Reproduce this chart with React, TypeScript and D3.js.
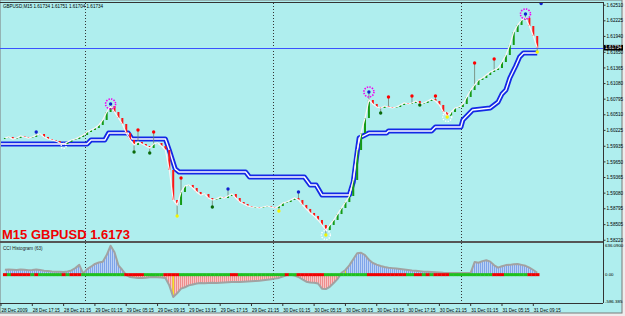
import React from 'react';
import * as d3 from 'd3';

// GBPUSD M15, one close every second bar (30 min) from 28 Dec 13:15
const closes = [
  1.60086, 1.60105, 1.60068, 1.60086, 1.60123, 1.60105, 1.60086, 1.60105, 1.60141, 1.60159,
  1.60105, 1.60068, 1.60050, 1.60032, 1.59995, 1.59977, 1.60013, 1.60050, 1.60068, 1.60105,
  1.60141, 1.60196, 1.60232, 1.60269, 1.60324, 1.60415, 1.60561, 1.60670, 1.60561, 1.60451,
  1.60342, 1.60178, 1.60050, 1.59959, 1.60013, 1.59977, 1.59940, 1.59904, 1.59977, 1.59995,
  1.59940, 1.59867, 1.59502, 1.58955, 1.58864, 1.59101, 1.59210, 1.59229, 1.59174, 1.59101,
  1.59046, 1.59064, 1.58991, 1.58955, 1.58973, 1.59010, 1.58991, 1.59028, 1.59064, 1.58991,
  1.58918, 1.58882, 1.58845, 1.58827, 1.58827, 1.58809, 1.58827, 1.58845, 1.58827, 1.58809,
  1.58845, 1.58900, 1.58918, 1.58955, 1.58991, 1.58955, 1.58864, 1.58791, 1.58718, 1.58663,
  1.58590, 1.58499, 1.58407, 1.58499, 1.58590, 1.58699, 1.58809, 1.58918, 1.59028, 1.59320,
  1.59867, 1.60178, 1.60451, 1.60780, 1.60707, 1.60652, 1.60634, 1.60670, 1.60652, 1.60634,
  1.60652, 1.60689, 1.60725, 1.60707, 1.60725, 1.60762, 1.60707, 1.60725, 1.60762, 1.60798,
  1.60762, 1.60689, 1.60561, 1.60488, 1.60561, 1.60634, 1.60652, 1.60707, 1.60835, 1.60962,
  1.61054, 1.61145, 1.61181, 1.61236, 1.61291, 1.61327, 1.61364, 1.61473, 1.61601, 1.61784,
  1.62021, 1.62149, 1.62240, 1.62276, 1.62130, 1.61948, 1.61734,
];

// CCI histogram (63), same samples
const cciValues = [
  107, 110, 105, 100, 110, 105, 95, 100, 110, 100,
  85, 80, 70, 65, 60, 55, 70, 90, 140, 210,
  20, 120, 170, 230, 260, 275, 420, 620, 480, 200,
  100, -10, -50, -60, -70, -70, -65, -55, -50, -55,
  -60, -70, -230, -480, -400, -300, -270, -230, -210, -190,
  -180, -185, -180, -175, -180, -175, -170, -165, -160, -160,
  -155, -150, -145, -140, -135, -130, -120, -110, -100, -85,
  -70, -40, -10, 5, -20, -50, -100, -150, -170, -175,
  -190, -300, -310, -260, -180, -90, 40, 100, 200, 330,
  460, 470, 420, 320, 250, 215, 185, 165, 150, 140,
  130, 120, 110, 100, 90, 85, 75, 65, 60, 55,
  50, 45, 40, 38, 36, 35, 35, 36, 35, 40,
  270, 255, 290, 310, 280, 200, 150, 180, 205, 210,
  225, 230, 210, 190, 150, 100, 40,
];

// sample where the zero-line colour switches, 1 = green, -1 = red
const trendChanges: [number, number][] = [
  [0, -1], [1, 1], [2, -1], [7, 1], [8, -1], [9, 1], [15, -1], [16, 1], [17, -1], [20, 1],
  [31, -1], [36, 1], [41, -1], [45, 1], [58, -1], [60, 1], [72, -1], [73, 1], [75, -1], [82, 1],
  [93, -1], [103, 1], [105, -1], [107, 1], [108, -1], [109, 1], [110, -1], [114, 1], [125, -1],
  [128, 1], [134, -1],
];
const yellowCci = [33, 43, 87];

// stepped double band (bar index, price)
const bandBars = [0, 44, 46, 53, 55, 65, 67, 84, 86, 89, 91, 125, 127, 155, 158, 161, 164, 178, 180,
  182, 183, 188, 197, 198, 220, 222, 235, 236, 239, 241, 250, 254, 256, 258, 260, 263, 265, 267, 274];
const bandMid = [1.59976, 1.59976, 1.60049, 1.60049, 1.60177, 1.60177, 1.60068, 1.60068, 1.59863,
  1.59523, 1.59465, 1.59465, 1.59374, 1.59374, 1.59228, 1.59228, 1.59046, 1.59046, 1.59283, 1.59830,
  1.60086, 1.60177, 1.60177, 1.60214, 1.60214, 1.60287, 1.60287, 1.60414, 1.60524, 1.60597, 1.60633,
  1.60743, 1.60889, 1.60962, 1.61181, 1.61400, 1.61564, 1.61637, 1.61637];

// markers (sample, price)
const blueDots: [number, number][] = [[8, 1.60196], [27, 1.60707], [57, 1.59156], [75, 1.59101], [93, 1.60926], [133, 1.62349], [137, 1.62540]];
const redDots: [number, number][] = [[34, 1.60232], [38, 1.60196], [45, 1.59356], [98, 1.60835], [104, 1.60853], [110, 1.60853], [120, 1.61455], [125, 1.61528]];
const greenDots: [number, number][] = [[33, 1.59831], [37, 1.59813], [53, 1.58827], [96, 1.60543], [106, 1.60689]];
const yellowDots: [number, number][] = [[44, 1.58663], [70, 1.58754], [82, 1.58316], [113, 1.60470], [136, 1.61656]];
const magentaRings: [number, number][] = [[27, 1.60707], [93, 1.60926], [133, 1.62349]];
const whiteRings: [number, number][] = [[15, 1.59940], [82, 1.58316], [113, 1.60470]];

const priceLabels = [1.62510, 1.62225, 1.61940, 1.61650, 1.61365, 1.61080, 1.60795, 1.60510, 1.60225,
  1.59935, 1.59650, 1.59365, 1.59080, 1.58795, 1.58505, 1.58220];
const cciLabels = [636.09, 0, -586.385];
const cciLabelText = ['636.0900', '0.00', '-586.385'];
const timeLabels = ['28 Dec 2009', '28 Dec 17:15', '28 Dec 21:15', '29 Dec 01:15', '29 Dec 05:15', '29 Dec 09:15',
  '29 Dec 13:15', '29 Dec 17:15', '29 Dec 21:15', '30 Dec 01:15', '30 Dec 05:15', '30 Dec 09:15',
  '30 Dec 13:15', '30 Dec 17:15', '30 Dec 21:15', '31 Dec 01:15', '31 Dec 05:15', '31 Dec 09:15'];
const daySeparators = [43, 139, 235];
const currentPrice = 1.61734;

const BG = '#AFEEEE';
const AXIS_X = 603;
const FONT = "'Liberation Sans', Arial, sans-serif";

const xBar = d3.scaleLinear().domain([0, 274]).range([1, 1 + 1.957 * 274]);
const xs = (j: number) => xBar(2 * j + 2);
const yP = d3.scaleLinear().domain([1.5817, 1.6255]).range([243, 3]);
const yC = d3.scaleLinear().domain([-586.385, 636.09]).range([302, 245]);

const trendAt = (j: number) => {
  let d = 1;
  for (const [s, v] of trendChanges) if (s <= j) d = v;
  return d;
};

export default function App() {
  const closeLine = d3.line<number>().x((_, i) => xs(i)).y(d => yP(d))(closes) || '';
  const bandLine = d3.line<number>().x((_, i) => xBar(bandBars[i])).y(d => yP(d))(bandMid) || '';
  const posArea = d3.area<number>().x((_, i) => xs(i)).y0(yC(0)).y1(d => yC(Math.max(d, 0)))(cciValues) || '';
  const negArea = d3.area<number>().x((_, i) => xs(i)).y0(yC(0)).y1(d => yC(Math.min(d, 0)))(cciValues) || '';
  const cciLine = d3.line<number>().x((_, i) => xs(i)).y(d => yC(d))(cciValues) || '';
  const step = xs(1) - xs(0);
  const yNow = yP(currentPrice);

  return (
    <svg width={625} height={316} style={{ position: 'absolute', left: 0, top: 0, display: 'block' }}>
      <defs>
        <clipPath id="mainClip"><rect x={0} y={3} width={AXIS_X} height={238} /></clipPath>
        <clipPath id="cciClip"><rect x={0} y={243} width={AXIS_X} height={60} /></clipPath>
        <pattern id="posFill" width={2} height={4} patternUnits="userSpaceOnUse">
          <rect width={2} height={4} fill="#BCD2F4" />
          <rect width={1} height={4} fill="#7EA4EA" />
        </pattern>
        <pattern id="negFill" width={2} height={4} patternUnits="userSpaceOnUse">
          <rect width={2} height={4} fill="#F6C6C6" />
          <rect width={1} height={4} fill="#EE8C8C" />
        </pattern>
      </defs>

      <rect width={625} height={316} fill="#EDEDED" />
      <rect x={0} y={0} width={622} height={313} fill={BG} stroke="#7A7A7A" strokeWidth={1} />

      {/* frame */}
      <line x1={0} x2={AXIS_X} y1={2.5} y2={2.5} stroke="#333" />
      <line x1={AXIS_X + 0.5} x2={AXIS_X + 0.5} y1={2} y2={303} stroke="#333" />
      <line x1={0} x2={AXIS_X} y1={303.5} y2={303.5} stroke="#333" />
      <line x1={0} x2={AXIS_X} y1={242} y2={242} stroke="#555" strokeWidth={2} />

      {daySeparators.map(b => (
        <line key={b} x1={Math.round(xBar(b)) + 0.5} x2={Math.round(xBar(b)) + 0.5} y1={3} y2={303}
          stroke="#333" strokeDasharray="1,2" />
      ))}

      <line x1={0} x2={AXIS_X} y1={Math.round(yNow) + 0.5} y2={Math.round(yNow) + 0.5} stroke="#3A52FF" />

      <g clipPath="url(#mainClip)">
        <path d={bandLine} fill="none" stroke="#1428E6" strokeWidth={5} strokeLinejoin="round" />
        <path d={bandLine} fill="none" stroke="#FFFFFF" strokeWidth={1.4} strokeLinejoin="round" />

        {[...redDots, ...blueDots, ...greenDots, ...yellowDots].filter(([j]) => j < closes.length).map(([j, p], i) => {
          const c = closes[j];
          return <line key={'w' + i} x1={xs(j)} x2={xs(j)} y1={yP(p)} y2={yP(c)} stroke="#6F806F" strokeWidth={0.8} />;
        })}

        {closes.map((c, j) => {
          const o = j ? closes[j - 1] : c;
          const top = yP(Math.max(o, c));
          const h = Math.max(1, yP(Math.min(o, c)) - top);
          return <rect key={j} x={xs(j) - 1} y={top} width={2} height={h} fill={c >= o ? '#159A15' : '#FF1414'} />;
        })}

        <path d={closeLine} fill="none" stroke="#FFF4F4" strokeWidth={1.2} />

        {whiteRings.map(([j, p], i) => (
          <circle key={'wr' + i} cx={xs(j)} cy={yP(p)} r={j === 15 ? 2.5 : 4.5} fill="none" stroke="#FFFFFF" strokeWidth={1.4} strokeDasharray="1.3,1.3" />
        ))}
        {magentaRings.map(([j, p], i) => (
          <circle key={'mr' + i} cx={xs(j)} cy={yP(p)} r={5} fill="none" stroke="#F000F0" strokeWidth={1.6} strokeDasharray="1.4,1.2" />
        ))}
        {redDots.map(([j, p], i) => <circle key={'r' + i} cx={xs(j)} cy={yP(p)} r={1.7} fill="#FF0000" />)}
        {greenDots.map(([j, p], i) => <circle key={'g' + i} cx={xs(j)} cy={yP(p)} r={1.7} fill="#0A6A0A" />)}
        {blueDots.map(([j, p], i) => <circle key={'b' + i} cx={xs(j)} cy={yP(p)} r={1.7} fill="#1020D0" />)}
        {yellowDots.map(([j, p], i) => <circle key={'y' + i} cx={xs(j)} cy={yP(p)} r={1.7} fill="#F4F400" />)}
      </g>

      {/* CCI histogram */}
      <g clipPath="url(#cciClip)">
        <path d={posArea} fill="url(#posFill)" />
        <path d={negArea} fill="url(#negFill)" />
        {yellowCci.map(j => (
          <line key={'yc' + j} x1={xs(j)} x2={xs(j)} y1={yC(0)} y2={yC(cciValues[j])} stroke="#F0F000" strokeWidth={1.2} />
        ))}
        <path d={cciLine} fill="none" stroke="#A2A2A2" strokeWidth={2} strokeLinejoin="round" />
        {cciValues.map((_, j) => (
          <rect key={'t' + j} x={xs(j) - step / 2} y={yC(0) - 1.5} width={step + 0.3} height={3}
            fill={trendAt(j) > 0 ? '#1EC01E' : '#F00000'} />
        ))}
      </g>

      {/* texts */}
      <text x={3} y={7.5} fontFamily={FONT} fontSize={5} fill="#000" textLength={100} lengthAdjust="spacingAndGlyphs">GBPUSD,M15 1.61734 1.61751 1.61704 1.61734</text>
      <text x={2} y={239} fontFamily={FONT} fontSize={13} fontWeight="bold" fill="#F00000">M15 GBPUSD 1.6173</text>
      <text x={3} y={250} fontFamily={FONT} fontSize={4.6} fill="#222">CCI Histogram (63)</text>

      {priceLabels.map(p => (
        <g key={p}>
          <line x1={AXIS_X} x2={AXIS_X + 2.5} y1={yP(p)} y2={yP(p)} stroke="#333" />
          <text x={AXIS_X + 3.5} y={yP(p)} dy="0.35em" fontFamily={FONT} fontSize={4.6} fill="#000">{p.toFixed(5)}</text>
        </g>
      ))}
      <rect x={AXIS_X + 1} y={yNow - 2.8} width={19} height={5.6} fill="#000" />
      <text x={AXIS_X + 2} y={yNow} dy="0.35em" fontFamily={FONT} fontSize={4.6} fill="#FFF">{currentPrice.toFixed(5)}</text>

      {cciLabels.map((v, i) => (
        <text key={v} x={AXIS_X + 2} y={i === 2 ? 301 : yC(v)} dy="0.35em" fontFamily={FONT} fontSize={4.4} fill="#000">{cciLabelText[i]}</text>
      ))}

      {timeLabels.map((t, k) => (
        <g key={t}>
          <line x1={xBar(16 * k)} x2={xBar(16 * k)} y1={303} y2={306} stroke="#333" />
          <text x={xBar(16 * k) + 0.5} y={311.5} fontFamily={FONT} fontSize={4.6} fill="#000"
            textLength={k === 0 ? 26 : 27} lengthAdjust="spacingAndGlyphs">{t}</text>
        </g>
      ))}
    </svg>
  );
}
